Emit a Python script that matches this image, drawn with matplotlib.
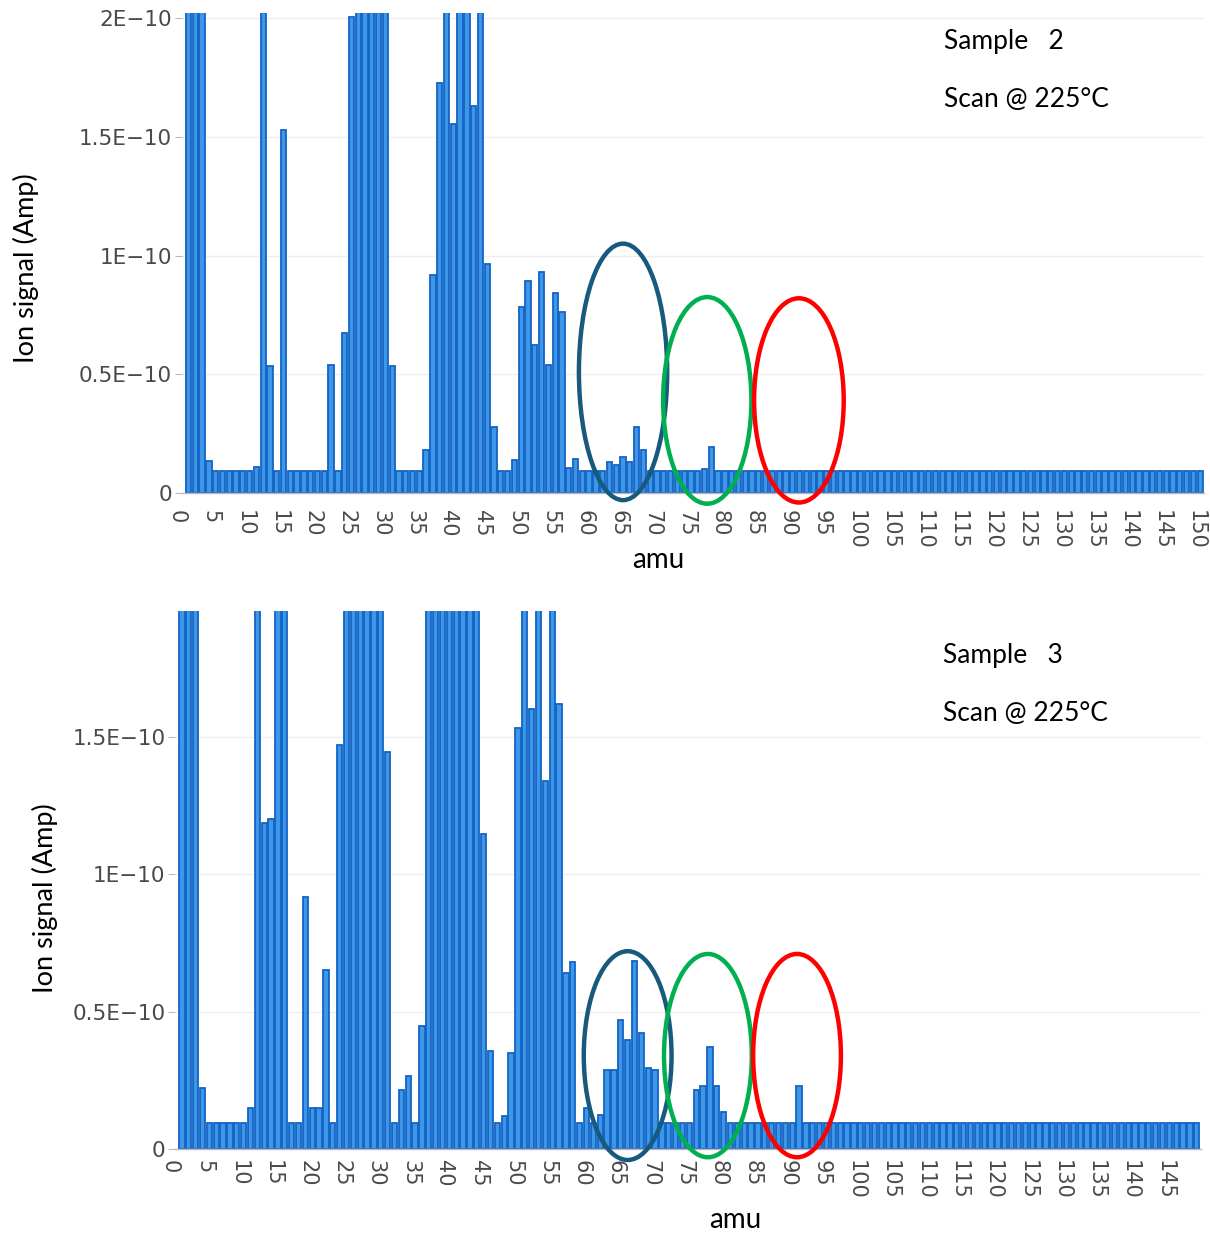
import matplotlib
matplotlib.use("Agg")
import matplotlib.pyplot as plt
from matplotlib.patches import Ellipse
from matplotlib.ticker import FixedLocator, FixedFormatter
from matplotlib.transforms import ScaledTranslation

# ---------------- data (values in units of 1E-10 A) ----------------
NOISE2 = 0.092
NOISE3 = 0.094
CLIP = 3.0  # bars that run off the top of the plotted range

amu_top = list(range(1, 151))
peaks_top = {
    1: CLIP, 2: CLIP, 3: CLIP, 4: 0.136, 11: 0.108, 12: CLIP, 13: 0.536, 15: 1.528,
    22: 0.54, 24: 0.672, 25: 2.005, 26: CLIP, 27: CLIP, 28: CLIP, 29: CLIP, 30: CLIP,
    31: 0.536, 36: 0.181, 37: 0.918, 38: 1.725, 39: CLIP, 40: 1.552, 41: CLIP, 42: CLIP,
    43: 1.63, 44: CLIP, 45: 0.964, 46: 0.277, 49: 0.137, 50: 0.784, 51: 0.894,
    52: 0.623, 53: 0.932, 54: 0.539, 55: 0.843, 56: 0.763, 57: 0.104, 58: 0.142,
    63: 0.132, 64: 0.118, 65: 0.153, 66: 0.129, 67: 0.279, 68: 0.181, 77: 0.10, 78: 0.192,
}
signal_top = [peaks_top.get(m, NOISE2) for m in amu_top]

amu_bot = list(range(1, 150))
peaks_bot = {
    1: CLIP, 2: CLIP, 3: CLIP, 4: 0.221, 11: 0.148, 12: CLIP, 13: 1.187, 14: 1.201,
    15: CLIP, 16: CLIP, 19: 0.919, 20: 0.148, 21: 0.148, 22: 0.651, 24: 1.469,
    25: CLIP, 26: CLIP, 27: CLIP, 28: CLIP, 29: CLIP, 30: CLIP, 31: 1.446, 33: 0.215,
    34: 0.264, 36: 0.449, 37: CLIP, 38: CLIP, 39: CLIP, 40: CLIP, 41: CLIP, 42: CLIP,
    43: CLIP, 44: CLIP, 45: 1.147, 46: 0.356, 48: 0.121, 49: 0.349, 50: 1.532,
    51: CLIP, 52: 1.603, 53: CLIP, 54: 1.339, 55: CLIP, 56: 1.619, 57: 0.642,
    58: 0.679, 60: 0.149, 62: 0.125, 63: 0.286, 64: 0.286, 65: 0.468, 66: 0.395,
    67: 0.685, 68: 0.424, 69: 0.294, 70: 0.287, 76: 0.215, 77: 0.230, 78: 0.372,
    79: 0.228, 80: 0.136, 91: 0.230,
}
signal_bot = [peaks_bot.get(m, NOISE3) for m in amu_bot]

ytick_vals_top = [0, 0.5, 1.0, 1.5, 2.0]
ytick_labels_top = ["0", "0.5E\u221210", "1E\u221210", "1.5E\u221210", "2E\u221210"]
ytick_vals_bot = [0, 0.5, 1.0, 1.5]
ytick_labels_bot = ["0", "0.5E\u221210", "1E\u221210", "1.5E\u221210"]
xtick_top = list(range(0, 151, 5))
xtick_bot = list(range(0, 146, 5))

sample_top = "Sample   2"
sample_bot = "Sample   3"
scan_text = "Scan @ 225\u00b0C"
ylabel = "Ion signal (Amp)"
xlabel = "amu"

# ellipse annotations: (center amu, center value, width amu, height value, colour)
ell_top = [(65.0, 0.51, 13.0, 1.08, "#175a7e"),
           (77.4, 0.39, 13.0, 0.87, "#00b050"),
           (90.9, 0.39, 13.2, 0.86, "#ff0000")]
ell_bot = [(66.0, 0.34, 12.8, 0.76, "#175a7e"),
           (77.7, 0.34, 12.8, 0.74, "#00b050"),
           (90.7, 0.34, 12.8, 0.74, "#ff0000")]

# ---------------- drawing ----------------
W, H = 1210, 1234
fig = plt.figure(figsize=(W / 100, H / 100), dpi=100)
fig.patch.set_facecolor("white")
plt.rcParams["font.family"] = ["DejaVu Sans"]

TICK_COLOR = "#4a4a4a"
BAR_FACE = "#3d97e8"
BAR_EDGE = "#1463c4"
TXT_FONT = ["Lato", "DejaVu Sans"]


def px_axes(left, right, top, bottom):
    return [left / W, 1 - bottom / H, (right - left) / W, (bottom - top) / H]


def draw(ax, amu, sig, xmax, ymax, yv, yl, xt, ells, xpad):
    ax.bar(amu, sig, width=0.78, color=BAR_FACE, edgecolor=BAR_EDGE, linewidth=1.3, zorder=2)
    ax.set_xlim(0, xmax)
    ax.set_ylim(0, ymax)
    for s in ["top", "right", "left"]:
        ax.spines[s].set_visible(False)
    ax.spines["bottom"].set_color("#bbbbbb")
    ax.spines["bottom"].set_linewidth(1.0)
    ax.yaxis.set_major_locator(FixedLocator(yv))
    ax.yaxis.set_major_formatter(FixedFormatter(yl))
    ax.xaxis.set_major_locator(FixedLocator(xt))
    ax.xaxis.set_major_formatter(FixedFormatter([str(v) for v in xt]))
    ax.tick_params(axis="y", length=5, color="#bbbbbb", labelsize=15.5, labelcolor=TICK_COLOR, pad=2)
    ax.tick_params(axis="x", length=0, labelsize=15, labelcolor=TICK_COLOR, pad=xpad, labelrotation=-90)
    shift = ScaledTranslation(-5 / 100, 0, fig.dpi_scale_trans)
    for lab in ax.get_xticklabels():
        lab.set_verticalalignment("top")
        lab.set_horizontalalignment("center")
        lab.set_transform(lab.get_transform() + shift)
    ax.grid(axis="y", color="#eeeeee", linewidth=1.0, zorder=0)
    ax.set_axisbelow(True)
    for cx, cy, w, h, c in ells:
        ax.add_patch(Ellipse((cx, cy), w, h, fill=False, edgecolor=c, linewidth=3.2,
                             clip_on=False, zorder=5))


ax1 = fig.add_axes(px_axes(181.7, 181.7 + 150.6 * 6.79, 13.3, 493))
draw(ax1, amu_top, signal_top, 150.6, 2.02, ytick_vals_top, ytick_labels_top, xtick_top, ell_top, 12)

ax2 = fig.add_axes(px_axes(175.1, 175.1 + 149.6 * 6.857, 610.6, 1149))
draw(ax2, amu_bot, signal_bot, 149.6, 1.96, ytick_vals_bot, ytick_labels_bot, xtick_bot, ell_bot, 8)

# axis titles and annotations
fig.text(26 / W, 1 - 268 / H, ylabel, rotation=90, ha="center", va="center",
         fontsize=19.5, family=TXT_FONT, color="black")
fig.text(45 / W, 1 - 898 / H, ylabel, rotation=90, ha="center", va="center",
         fontsize=19.5, family=TXT_FONT, color="black")
fig.text(658 / W, 1 - 560 / H, xlabel, ha="center", va="center",
         fontsize=20, family=TXT_FONT, color="black")
fig.text(735 / W, 1 - 1220 / H, xlabel, ha="center", va="center",
         fontsize=20, family=TXT_FONT, color="black")

fig.text(944 / W, 1 - 41 / H, sample_top, ha="left", va="center", fontsize=19, family=TXT_FONT)
fig.text(944 / W, 1 - 100 / H, scan_text, ha="left", va="center", fontsize=19, family=TXT_FONT)
fig.text(943 / W, 1 - 655 / H, sample_bot, ha="left", va="center", fontsize=19, family=TXT_FONT)
fig.text(943 / W, 1 - 713 / H, scan_text, ha="left", va="center", fontsize=19, family=TXT_FONT)

fig.savefig("out.png", dpi=100, facecolor="white")
